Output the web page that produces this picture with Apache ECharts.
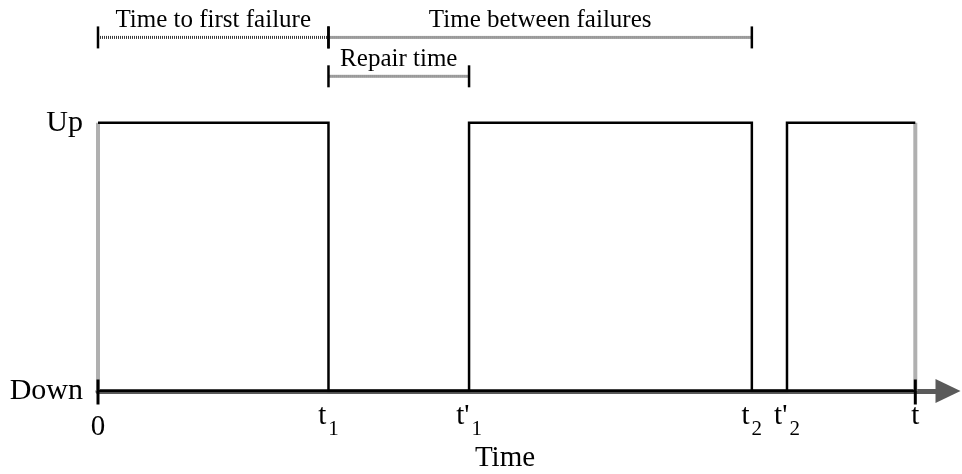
<!DOCTYPE html>
<html>
<head>
<meta charset="utf-8">
<script src="https://cdn.jsdelivr.net/npm/echarts@6/dist/echarts.min.js"></script>
<style>
  html, body { margin: 0; padding: 0; background: #fff; }
  #chart { width: 962px; height: 474px; }
</style>
</head>
<body>
<div id="chart"></div>
<script>
// event times on the time axis (t = 100)
const eventTimes = [0, 28.2, 45.4, 80, 84.3, 100]
const eventLabels = ['0', 't_1', "t'_1", 't_2', "t'_2", 't']
// state held between consecutive events: 1 = Up, 0 = Down
const stateBetween = [1, 0, 1, 0, 1]
const stateNames = ['Down', 'Up']

// interval annotations above the plot
const spanNames = ['Time to first failure', 'Time between failures', 'Repair time']
const spanStart = [0, 28.2, 28.2]
const spanEnd = [28.2, 80, 45.4]
const spanRow = [0, 0, 1]

// layout only
const rowLevel = [1.318, 1.173]
const serif = 'Liberation Serif'

const statePath = []
stateBetween.forEach((s, i) => {
  statePath.push([eventTimes[i], s], [eventTimes[i + 1], s])
})
const tEnd = eventTimes[eventTimes.length - 1]

const spanSeries = spanNames.map((name, i) => ({
  type: 'line',
  name,
  data: [[spanStart[i], rowLevel[spanRow[i]]], [spanEnd[i], rowLevel[spanRow[i]]]],
  symbol: 'none',
  lineStyle: { color: '#3a3a3a', width: 3, type: [1, 1] },
  silent: true,
  z: 3
}))

const spanEnds = []
spanNames.forEach((_, i) => {
  spanEnds.push([spanStart[i], rowLevel[spanRow[i]]], [spanEnd[i], rowLevel[spanRow[i]]])
})

const chart = echarts.init(document.getElementById('chart'))

chart.setOption({
  animation: false,
  grid: { left: 98, right: 14, top: 2, bottom: 83, outerBoundsMode: 'none' },
  xAxis: {
    type: 'value',
    min: 0,
    max: 104,
    offset: 3,
    name: 'Time',
    nameLocation: 'middle',
    nameGap: 50,
    nameMoveOverlap: false,
    nameTextStyle: { fontFamily: serif, fontSize: 29, color: '#000', padding: [0, 36, 0, 0] },
    splitLine: { show: false },
    axisTick: { show: false },
    axisLine: {
      show: true,
      symbol: ['none', 'triangle'],
      symbolSize: [24, 25],
      lineStyle: { color: '#5a5a5a', width: 5, type: [1, 1] }
    },
    axisLabel: {
      customValues: eventTimes,
      margin: 8,
      formatter: v => {
        const label = eventLabels[eventTimes.indexOf(v)] || ''
        const parts = label.split('_')
        if (parts.length > 1) return '{b|' + parts[0] + '}{s|' + parts[1] + '}'
        return label === '0' ? '{z|0}' : '{b|' + label + '}'
      },
      rich: {
        b: { fontFamily: serif, fontSize: 29, color: '#000', verticalAlign: 'top' },
        z: { fontFamily: serif, fontSize: 29, color: '#000', verticalAlign: 'top', padding: [11, 0, 0, 0] },
        s: { fontFamily: serif, fontSize: 21, color: '#000', verticalAlign: 'top', padding: [17, 0, 0, 2] }
      }
    }
  },
  yAxis: {
    type: 'value',
    min: 0,
    max: 1.45,
    splitLine: { show: false },
    axisLine: { show: false },
    axisTick: { show: false },
    axisLabel: {
      customValues: [0, 1],
      margin: 15,
      fontFamily: serif,
      fontSize: 30,
      color: '#000',
      formatter: v => stateNames[v]
    }
  },
  series: [
    {
      type: 'line',
      name: 'edges',
      data: [[0, 0], [0, 1], null, [tEnd, 0], [tEnd, 1]],
      symbol: 'none',
      connectNulls: false,
      lineStyle: { color: '#b0b0b0', width: 4 },
      z: 2
    },
    {
      type: 'line',
      name: 'baseline',
      data: [[0, 0], [tEnd, 0]],
      symbol: 'none',
      lineStyle: { color: '#000', width: 2.5 },
      z: 3
    },
    {
      type: 'line',
      name: 'state',
      data: statePath,
      symbol: 'none',
      lineStyle: { color: '#000', width: 2.5, join: 'miter' },
      z: 4
    },
    {
      type: 'scatter',
      name: 'axis ticks',
      data: [[0, 0], [tEnd, 0]],
      symbol: 'rect',
      symbolSize: [3, 25],
      symbolOffset: [0, 1],
      itemStyle: { color: '#000', opacity: 1 },
      z: 5
    },
    ...spanSeries,
    {
      type: 'scatter',
      name: 'span ends',
      data: spanEnds,
      symbol: 'rect',
      symbolSize: [2.5, 22],
      itemStyle: { color: '#000', opacity: 1 },
      z: 5
    },
    {
      type: 'scatter',
      name: 'span labels',
      data: spanNames.map((name, i) => ({
        name,
        value: [(spanStart[i] + spanEnd[i]) / 2, rowLevel[spanRow[i]]]
      })),
      symbolSize: 1,
      itemStyle: { color: 'rgba(0,0,0,0)', opacity: 1 },
      label: {
        show: true,
        position: 'top',
        distance: 4,
        formatter: p => p.name,
        fontFamily: serif,
        fontSize: 25,
        color: '#000'
      },
      z: 6
    }
  ]
})
</script>
</body>
</html>
